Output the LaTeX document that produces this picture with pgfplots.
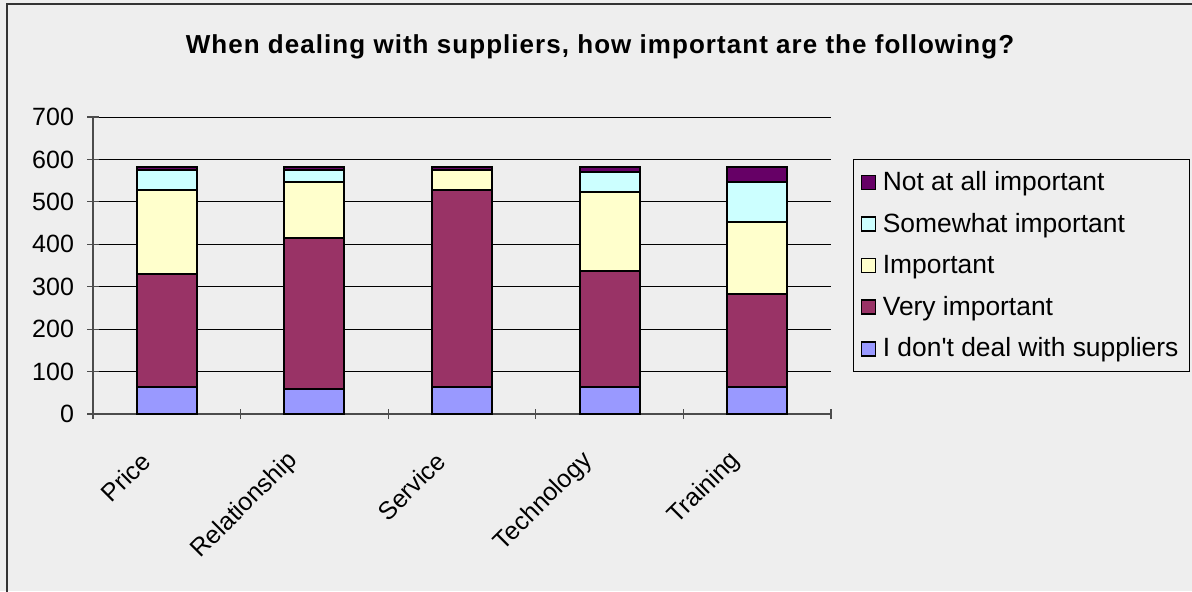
\documentclass[border=0pt]{standalone}
\usepackage{pgfplots}
\pgfplotsset{compat=1.18}
\usepackage{fontspec}
\setmainfont{Liberation Sans}

\definecolor{bg}{HTML}{EEEEEE}
\definecolor{cNone}{HTML}{9999FF}
\definecolor{cVery}{HTML}{993366}
\definecolor{cImp}{HTML}{FFFFCC}
\definecolor{cSome}{HTML}{CCFFFF}
\definecolor{cNot}{HTML}{660066}

\begin{document}
\begin{tikzpicture}[x=1pt,y=1pt]
% page: 1192x591 px at 0.5pt per px
\fill[bg] (0,0) rectangle (596,295.5);
\path[use as bounding box] (0,0) rectangle (596,295.5);
\draw[line width=1pt,black!80] (3.5,-2) -- (3.5,293.5) -- (600,293.5);
\node[font=\fontsize{13}{15}\selectfont\bfseries\addfontfeatures{LetterSpace=4}] at (300,272) {When dealing with suppliers, how important are the following?};

\begin{axis}[
    at={(46.5pt,88.5pt)}, anchor=south west,
    scale only axis,
    width=369pt, height=148.5pt,
    ybar stacked,
    bar width=30pt,
    xmin=-0.5, xmax=4.5,
    ymin=0, ymax=700,
    ytick={0,100,...,700},
    xtick={0,1,2,3,4},
    xticklabels={Price,Relationship,Service,Technology,Training},
    minor xtick={-0.5,0.5,1.5,2.5,3.5,4.5},
    major x tick style={draw=none},
    minor tick length=5pt,
    major tick length=6pt,
    tick align=outside,
    tick style={black!70, line width=0.6pt},
    axis lines=left,
    axis line style={-, black!70, line width=0.6pt},
    ymajorgrids,
    grid style={black, line width=0.5pt},
    /pgf/number format/assume math mode=true,
    tick label style={font=\fontsize{12.5}{14}\selectfont},
    xticklabel style={xshift=-8pt, yshift=-16pt, rotate=45, anchor=east},
    yticklabel style={xshift=-3pt},
    axis background/.style={fill=bg},
    reverse legend,
    legend style={at={(1.03,0.86)}, anchor=north west,
        draw=black, fill=bg, line width=0.5pt,
        font=\fontsize{13.2}{15}\selectfont,
        row sep=5.9pt, column sep=1.5pt, inner xsep=3.5pt, inner ysep=4pt,
        cells={anchor=west}},
    legend image code/.code={\draw[#1, line width=0.6pt] (0pt,-3.5pt) rectangle (7pt,3.5pt);},
    every axis plot/.append style={draw=black, line width=1pt},
]
\addplot[fill=cNone] coordinates {(0,64) (1,59) (2,64) (3,64) (4,64)};
\addlegendentry{I don\textquotesingle t deal with suppliers}
\addplot[fill=cVery] coordinates {(0,267) (1,357) (2,464) (3,272) (4,220)};
\addlegendentry{Very important}
\addplot[fill=cImp] coordinates {(0,197) (1,131) (2,46) (3,188) (4,169)};
\addlegendentry{Important}
\addplot[fill=cSome] coordinates {(0,46) (1,27) (2,0) (3,46) (4,94)};
\addlegendentry{Somewhat important}
\addplot[fill=cNot] coordinates {(0,8) (1,8) (2,7) (3,11) (4,34)};
\addlegendentry{Not at all important}
\end{axis}
\end{tikzpicture}
\end{document}
